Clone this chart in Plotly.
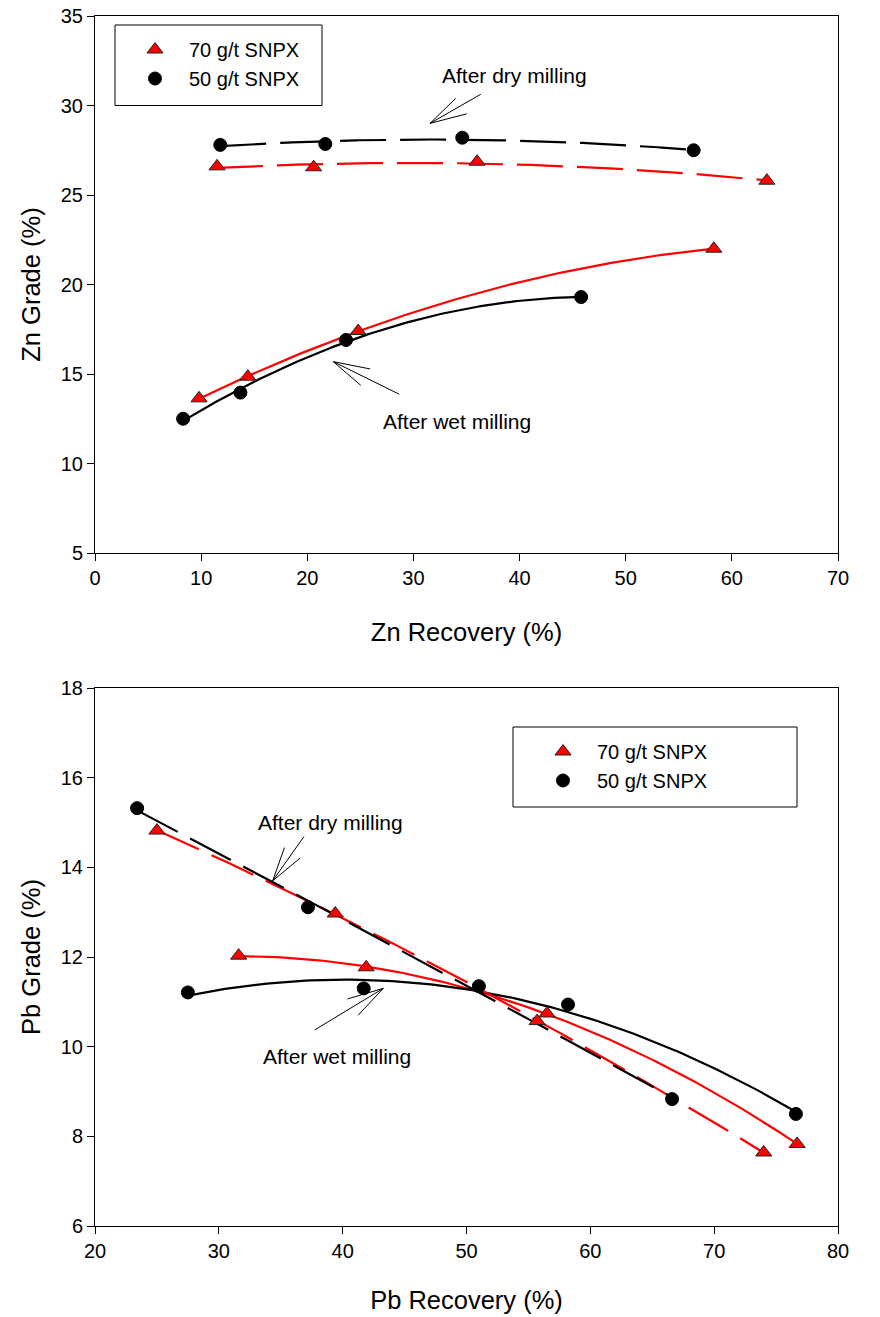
import numpy as np
import plotly.graph_objects as go

# ---------------- data ----------------
# Top panel: Zn recovery (%) vs Zn grade (%)
zn_dry70_x = [11.5, 20.6, 36.0, 63.3]
zn_dry70_y = [26.6, 26.55, 26.86, 25.8]
zn_dry50_x = [11.8, 21.7, 34.6, 56.4]
zn_dry50_y = [27.8, 27.85, 28.2, 27.5]
zn_wet70_x = [9.8, 14.4, 24.8, 58.3]
zn_wet70_y = [13.64, 14.85, 17.4, 22.0]
zn_wet50_x = [8.3, 13.7, 23.65, 45.8]
zn_wet50_y = [12.5, 13.96, 16.9, 19.3]

# Bottom panel: Pb recovery (%) vs Pb grade (%)
pb_dry70_x = [25.0, 39.4, 55.7, 74.0]
pb_dry70_y = [14.82, 12.97, 10.57, 7.64]
pb_dry50_x = [23.4, 37.2, 51.0, 66.6]
pb_dry50_y = [15.32, 13.11, 11.35, 8.83]
pb_wet70_x = [31.6, 41.9, 56.5, 76.7]
pb_wet70_y = [12.03, 11.77, 10.74, 7.83]
pb_wet50_x = [27.5, 41.7, 58.2, 76.6]
pb_wet50_y = [11.21, 11.30, 10.94, 8.50]

series_names = ["70 g/t SNPX", "50 g/t SNPX"]
zn_x_ticks = [0, 10, 20, 30, 40, 50, 60, 70]
zn_y_ticks = [5, 10, 15, 20, 25, 30, 35]
pb_x_ticks = [20, 30, 40, 50, 60, 70, 80]
pb_y_ticks = [6, 8, 10, 12, 14, 16, 18]

# ---------------- styling ----------------
FONT = "Liberation Sans, Arial, sans-serif"
RED = "#FF0000"
BLACK = "#000000"
DASH = "46px,14px"
LW = 2.2


def quad_fit(x, y):
    """Quadratic regression curve through the measured points (as in the original)."""
    c = np.polyfit(x, y, 2)
    xs = np.linspace(min(x), max(x), 120)
    return xs, np.polyval(c, xs)


fig = go.Figure()


def add_panel(xa, ya, legend, dry70, dry50, wet70, wet50):
    # fitted lines
    for (x, y), color, dash in [
        (wet70, RED, "solid"), (wet50, BLACK, "solid"),
        (dry70, RED, DASH), (dry50, BLACK, DASH),
    ]:
        xs, ys = quad_fit(x, y)
        fig.add_trace(go.Scatter(x=xs, y=ys, mode="lines", xaxis=xa, yaxis=ya,
                                 line=dict(color=color, width=LW, dash=dash),
                                 showlegend=False, hoverinfo="skip"))
    # markers
    tri = dict(symbol="triangle-up", size=14, color=RED, line=dict(color="#222222", width=1))
    cir = dict(symbol="circle", size=13, color=BLACK, line=dict(color=BLACK, width=1))
    fig.add_trace(go.Scatter(x=dry70[0], y=dry70[1], mode="markers", marker=tri,
                             xaxis=xa, yaxis=ya, name=series_names[0], legend=legend))
    fig.add_trace(go.Scatter(x=dry50[0], y=dry50[1], mode="markers", marker=cir,
                             xaxis=xa, yaxis=ya, name=series_names[1], legend=legend))
    fig.add_trace(go.Scatter(x=wet70[0], y=wet70[1], mode="markers", marker=tri,
                             xaxis=xa, yaxis=ya, showlegend=False))
    fig.add_trace(go.Scatter(x=wet50[0], y=wet50[1], mode="markers", marker=cir,
                             xaxis=xa, yaxis=ya, showlegend=False))


add_panel("x", "y", "legend",
          (zn_dry70_x, zn_dry70_y), (zn_dry50_x, zn_dry50_y),
          (zn_wet70_x, zn_wet70_y), (zn_wet50_x, zn_wet50_y))
add_panel("x2", "y2", "legend2",
          (pb_dry70_x, pb_dry70_y), (pb_dry50_x, pb_dry50_y),
          (pb_wet70_x, pb_wet70_y), (pb_wet50_x, pb_wet50_y))

axis_common = dict(showline=True, linecolor=BLACK, linewidth=1, mirror=True,
                   ticks="outside", ticklen=7, tickwidth=1, tickcolor=BLACK,
                   showgrid=False, zeroline=False, automargin=False,
                   tickfont=dict(family=FONT, size=20, color=BLACK))
title_font = dict(family=FONT, size=25.5, color=BLACK)

W, H = 880, 1317
ML, MR, MT, MB = 95, 42, 16, 91
PW, PH = W - ML - MR, H - MT - MB


def px(xp):
    return (xp - ML) / PW


def py(yp):
    return (H - MB - yp) / PH


legend_style = dict(xanchor="left", yanchor="top", bgcolor="rgba(0,0,0,0)", borderwidth=0,
                    font=dict(family=FONT, size=20, color=BLACK), itemwidth=58,
                    tracegroupgap=0)

fig.update_layout(
    width=W, height=H,
    margin=dict(l=ML, r=MR, t=MT, b=MB, pad=0, autoexpand=False),
    paper_bgcolor="white", plot_bgcolor="white",
    font=dict(family=FONT, color=BLACK),
    xaxis=dict(axis_common, range=[0, 70], tickvals=zn_x_ticks, anchor="y",
               domain=[0, 1],
               title=dict(text="Zn Recovery (%)", font=title_font, standoff=35)),
    yaxis=dict(axis_common, range=[5, 35], tickvals=zn_y_ticks, anchor="x",
               domain=[py(553), 1],
               title=dict(text="Zn Grade (%)", font=title_font, standoff=12)),
    xaxis2=dict(axis_common, range=[20, 80], tickvals=pb_x_ticks, anchor="y2",
                domain=[0, 1],
                title=dict(text="Pb Recovery (%)", font=title_font, standoff=30)),
    yaxis2=dict(axis_common, range=[6, 18], tickvals=pb_y_ticks, anchor="x2",
                domain=[0, py(688)],
                title=dict(text="Pb Grade (%)", font=title_font, standoff=12)),
    legend=dict(legend_style, x=px(121), y=py(30)),
    legend2=dict(legend_style, x=px(529), y=py(732)),
    showlegend=True,
)

# legend boxes
for x0, y0, x1, y1 in [(115, 25, 322, 105.5), (513, 727, 797, 807)]:
    fig.add_shape(type="rect", xref="paper", yref="paper",
                  x0=px(x0), x1=px(x1), y0=py(y1), y1=py(y0),
                  line=dict(color=BLACK, width=1), fillcolor="rgba(0,0,0,0)", layer="above")

ann_font = dict(family=FONT, size=21, color=BLACK)

# text labels
labels = [
    ("x", "y", 39.48, 31.70, "After dry milling"),
    ("x", "y", 34.08, 12.37, "After wet milling"),
    ("x2", "y2", 38.98, 15.01, "After dry milling"),
    ("x2", "y2", 39.52, 9.77, "After wet milling"),
]
for xr, yr, x, y, t in labels:
    fig.add_annotation(xref=xr, yref=yr, x=x, y=y, text=t, showarrow=False,
                       font=ann_font, xanchor="center", yanchor="middle")

# pointer arrows: tip (data coords) + three line ends (pixel offsets)
pointers = [
    ("x", "y", 31.56, 29.0, [(52.3, -30.0), (27.3, -26.6), (38.3, -10.0)]),
    ("x", "y", 22.45, 15.69, [(67.4, 33.3), (38.4, 7.6), (29.0, 25.0)]),
    ("x2", "y2", 34.35, 13.70, [(32.3, -45.7), (12.3, -34.7), (29.0, -24.0)]),
    ("x2", "y2", 43.28, 11.30, [(-70.0, 42.4), (-37.3, 11.0), (-26.6, 28.4)]),
]
for xr, yr, x, y, ends in pointers:
    for ax, ay in ends:
        fig.add_annotation(xref=xr, yref=yr, x=x, y=y, ax=ax, ay=ay, text="",
                           showarrow=True, arrowhead=0, arrowwidth=1,
                           arrowcolor=BLACK, standoff=0, startstandoff=0)

fig.write_html("out.html")
